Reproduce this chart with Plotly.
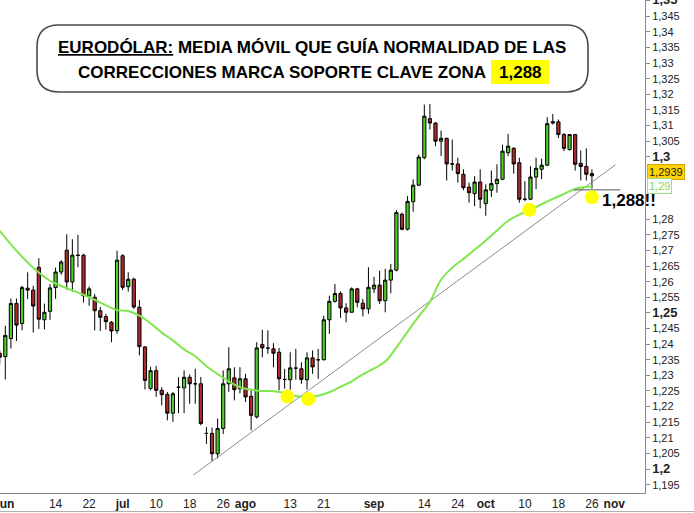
import plotly.graph_objects as go

# ---------------- data (daily EUR/USD candles, 31 May 2012 .. 26 Oct 2012) -------------
day_idx = list(range(107))

open_ = [1.2371, 1.2360, 1.2418, 1.2530, 1.2466, 1.2579, 1.2573, 1.2646, 1.2478, 1.2505,
         1.2581, 1.2631, 1.2701, 1.2599, 1.2685, 1.2685, 1.2554, 1.2550, 1.2507, 1.2488,
         1.2470, 1.2443, 1.2683, 1.2584, 1.2608, 1.2518, 1.2391, 1.2258, 1.2315, 1.2252,
         1.2239, 1.2179, 1.2262, 1.2260, 1.2294, 1.2273, 1.2273, 1.2114, 1.2114, 1.2049,
         1.2130, 1.2273, 1.2292, 1.2257, 1.2289, 1.2233, 1.2167, 1.2399, 1.2387, 1.2385,
         1.2374, 1.2287, 1.2286, 1.2323, 1.2321, 1.2286, 1.2356, 1.2350, 1.2350, 1.2478,
         1.2537, 1.2562, 1.2516, 1.2502, 1.2577, 1.2531, 1.2513, 1.2577, 1.2589, 1.2539,
         1.2605, 1.2637, 1.2816, 1.2768, 1.2856, 1.2909, 1.2997, 1.3122, 1.3108, 1.3050,
         1.3059, 1.2977, 1.2977, 1.2944, 1.2903, 1.2882, 1.2919, 1.2850, 1.2893, 1.2914,
         1.2928, 1.3013, 1.3027, 1.2981, 1.2864, 1.2864, 1.2935, 1.2960, 1.2973, 1.3108,
         1.3112, 1.3071, 1.3023, 1.3071, 1.2979, 1.2969, 1.2946]
high = [1.2380, 1.2459, 1.2546, 1.2546, 1.2587, 1.2630, 1.2587, 1.2675, 1.2530, 1.2592,
        1.2645, 1.2669, 1.2752, 1.2736, 1.2750, 1.2689, 1.2585, 1.2560, 1.2519, 1.2497,
        1.2474, 1.2699, 1.2688, 1.2630, 1.2613, 1.2541, 1.2394, 1.2327, 1.2330, 1.2262,
        1.2247, 1.2247, 1.2294, 1.2316, 1.2303, 1.2321, 1.2295, 1.2135, 1.2133, 1.2162,
        1.2316, 1.2390, 1.2326, 1.2326, 1.2305, 1.2257, 1.2406, 1.2446, 1.2444, 1.2403,
        1.2388, 1.2321, 1.2374, 1.2385, 1.2342, 1.2374, 1.2380, 1.2385, 1.2491, 1.2555,
        1.2593, 1.2569, 1.2531, 1.2582, 1.2580, 1.2545, 1.2646, 1.2616, 1.2635, 1.2641,
        1.2657, 1.2829, 1.2821, 1.2874, 1.2928, 1.3007, 1.3167, 1.3169, 1.3111, 1.3084,
        1.3061, 1.3055, 1.2997, 1.2960, 1.2917, 1.2938, 1.2960, 1.2912, 1.2956, 1.2976,
        1.3039, 1.3073, 1.3031, 1.2997, 1.2922, 1.2970, 1.2997, 1.2994, 1.3127, 1.3137,
        1.3119, 1.3076, 1.3073, 1.3073, 1.3020, 1.3027, 1.2960]
low = [1.2335, 1.2287, 1.2386, 1.2410, 1.2444, 1.2544, 1.2437, 1.2449, 1.2447, 1.2478,
       1.2545, 1.2622, 1.2574, 1.2568, 1.2646, 1.2533, 1.2523, 1.2444, 1.2442, 1.2446,
       1.2406, 1.2433, 1.2573, 1.2568, 1.2513, 1.2364, 1.2255, 1.2252, 1.2231, 1.2204,
       1.2156, 1.2151, 1.2179, 1.2179, 1.2209, 1.2209, 1.2140, 1.2080, 1.2025, 1.2034,
       1.2112, 1.2247, 1.2220, 1.2242, 1.2215, 1.2124, 1.2162, 1.2358, 1.2369, 1.2326,
       1.2252, 1.2257, 1.2254, 1.2286, 1.2273, 1.2255, 1.2305, 1.2289, 1.2348, 1.2433,
       1.2533, 1.2484, 1.2470, 1.2501, 1.2518, 1.2489, 1.2497, 1.2563, 1.2529, 1.2502,
       1.2563, 1.2633, 1.2764, 1.2764, 1.2824, 1.2906, 1.2992, 1.3087, 1.3034, 1.3002,
       1.2924, 1.2956, 1.2917, 1.2893, 1.2853, 1.2842, 1.2835, 1.2811, 1.2871, 1.2885,
       1.2925, 1.3002, 1.2946, 1.2853, 1.2858, 1.2861, 1.2896, 1.2928, 1.2970, 1.3103,
       1.3060, 1.3018, 1.3020, 1.2956, 1.2924, 1.2924, 1.2898]
close = [1.2358, 1.2428, 1.2530, 1.2461, 1.2581, 1.2573, 1.2522, 1.2480, 1.2502, 1.2580,
         1.2631, 1.2663, 1.2599, 1.2685, 1.2684, 1.2555, 1.2577, 1.2507, 1.2486, 1.2472,
         1.2442, 1.2669, 1.2582, 1.2608, 1.2519, 1.2392, 1.2284, 1.2315, 1.2252, 1.2238,
         1.2179, 1.2241, 1.2262, 1.2294, 1.2273, 1.2273, 1.2146, 1.2114, 1.2049, 1.2130,
         1.2273, 1.2321, 1.2254, 1.2289, 1.2231, 1.2172, 1.2388, 1.2388, 1.2387, 1.2371,
         1.2289, 1.2287, 1.2324, 1.2323, 1.2287, 1.2356, 1.2327, 1.2350, 1.2478, 1.2537,
         1.2562, 1.2516, 1.2502, 1.2577, 1.2534, 1.2513, 1.2582, 1.2589, 1.2539, 1.2605,
         1.2637, 1.2821, 1.2768, 1.2857, 1.2909, 1.2999, 1.3130, 1.3108, 1.3050, 1.3059,
         1.2977, 1.2977, 1.2946, 1.2901, 1.2885, 1.2919, 1.2864, 1.2894, 1.2914, 1.2928,
         1.3018, 1.3034, 1.2977, 1.2864, 1.2864, 1.2935, 1.2963, 1.2973, 1.3106, 1.3112,
         1.3071, 1.3027, 1.3071, 1.2976, 1.2969, 1.2944, 1.2939]

# moving average (read at selected candles)
ma_idx = [0, 3, 6, 9, 12, 15, 18, 21, 23, 25, 27, 29, 31, 33, 35, 37, 39, 41, 43, 45,
          47, 49, 51, 53, 55, 57, 59, 61, 63, 65, 67, 69, 71, 73, 75, 77, 79, 81, 83, 85,
          87, 89, 91, 93, 95, 97, 99, 101, 103, 105, 106]
ma_val = [1.2763, 1.2699, 1.2645, 1.2603, 1.2579, 1.2558, 1.2533, 1.2509, 1.2506, 1.2491,
          1.2466, 1.2437, 1.2412, 1.2383, 1.2361, 1.2329, 1.2304, 1.2281, 1.2262, 1.2254,
          1.2250, 1.2249, 1.2244, 1.2234, 1.2231, 1.2235, 1.2246, 1.2263, 1.2281, 1.2303,
          1.2322, 1.2344, 1.2389, 1.2440, 1.2489, 1.2536, 1.2606, 1.2645, 1.2673, 1.2702,
          1.2732, 1.2764, 1.2795, 1.2815, 1.2830, 1.2848, 1.2865, 1.2881, 1.2897, 1.2903,
          1.2905]

# trend line, support line and highlighted touches
trend_x = [34.66, 110.2]
trend_y = [1.1981, 1.2974]
support_x = [102.8, 111.1]
support_y = [1.2894, 1.2894]
dots_x = [51.5, 55.25, 94.8, 106.0]
dots_y = [1.2232, 1.2224, 1.2830, 1.2870]

x_tick_idx = [1, 10, 16, 22, 28, 34, 40, 44, 52, 58, 67, 76, 82, 87, 94, 100, 106, 110]
x_tick_text = ['jun', '14', '22', 'jul', '10', '18', '26', 'ago', '13', '21', 'sep',
               '14', '24', 'oct', '10', '18', '26', 'nov']
month_labels = {'jun', 'jul', 'ago', 'sep', 'oct', 'nov'}

y_tick_vals = [1.195, 1.2, 1.205, 1.21, 1.215, 1.22, 1.225, 1.23, 1.235, 1.24, 1.245,
               1.25, 1.255, 1.26, 1.265, 1.27, 1.275, 1.28, 1.3, 1.305, 1.31, 1.315,
               1.32, 1.325, 1.33, 1.335, 1.34, 1.345, 1.35]
y_tick_text = ['1,195', '1,2', '1,205', '1,21', '1,215', '1,22', '1,225', '1,23', '1,235',
               '1,24', '1,245', '1,25', '1,255', '1,26', '1,265', '1,27', '1,275', '1,28',
               '1,3', '1,305', '1,31', '1,315', '1,32', '1,325', '1,33', '1,335', '1,34',
               '1,345', '1,35']
major_y = {'1,2', '1,25', '1,3', '1,35'}

last_price_label = '1,2939'
ma_price_label = '1,29'

# ---------------- figure -------------
W, H = 694, 513
ML, MR, MT, MB = 0, 49, 0, 20
PW, PH = W - ML - MR, H - MT - MB


def px(x):
    return x / PW


def py(y):
    return 1 - y / PH


FONT = 'Arial, Liberation Sans, sans-serif'
GREEN = '#4ccd27'
RED = '#ad2a2a'

fig = go.Figure()
fig.add_trace(go.Candlestick(
    x=day_idx, open=open_, high=high, low=low, close=close,
    increasing=dict(fillcolor=GREEN, line=dict(color='black', width=1)),
    decreasing=dict(fillcolor=RED, line=dict(color='black', width=1)),
    whiskerwidth=0, showlegend=False, hoverinfo='skip'))
fig.add_trace(go.Scatter(x=trend_x, y=trend_y, mode='lines',
                         line=dict(color='#8c8c8c', width=1), showlegend=False, hoverinfo='skip'))
fig.add_trace(go.Scatter(x=ma_idx, y=ma_val, mode='lines', line_shape='spline',
                         line=dict(color='#7fe64e', width=2), showlegend=False, hoverinfo='skip'))
fig.add_trace(go.Scatter(x=support_x, y=support_y, mode='lines',
                         line=dict(color='#555555', width=1), showlegend=False, hoverinfo='skip'))
fig.add_trace(go.Scatter(x=dots_x, y=dots_y, mode='markers',
                         marker=dict(color='#ffff00', size=14, line=dict(width=0)),
                         showlegend=False, hoverinfo='skip'))

xt = ['<b>%s</b>' % t if t in month_labels else t for t in x_tick_text]
yt = ['<span style="font-size:13px"><b>%s</b></span>' % t if t in major_y else t
      for t in y_tick_text]

# rounded title box
L, R, T, B, r = 37, 588, 25, 92, 22
path = ('M {a},{b} L {c},{b} Q {d},{b} {d},{e} L {d},{f} Q {d},{g} {c},{g} '
        'L {a},{g} Q {h},{g} {h},{f} L {h},{e} Q {h},{b} {a},{b} Z').format(
    a=px(L + r), b=py(T), c=px(R - r), d=px(R), e=py(T + r), f=py(B - r), g=py(B), h=px(L))

fig.update_layout(
    width=W, height=H, margin=dict(l=ML, r=MR, t=MT, b=MB, autoexpand=False),
    paper_bgcolor='white', plot_bgcolor='white',
    font=dict(family=FONT, color='#222222', size=11),
    showlegend=False,
    boxgap=0.18,
    xaxis=dict(range=[0.05, 115.5], tickmode='array', tickvals=x_tick_idx, ticktext=xt,
               showgrid=False, zeroline=False, showline=True, linecolor='#8a8a8a',
               linewidth=1, ticks='', rangeslider=dict(visible=False),
               ticklabeloverflow='allow', automargin=False,
               tickfont=dict(family='Liberation Sans Narrow, Arial Narrow, Arial', size=12,
                             color='#222222'),
               fixedrange=True),
    yaxis=dict(range=[1.19233, 1.3502], side='right', tickmode='array',
               tickvals=y_tick_vals, ticktext=yt, showgrid=False, zeroline=False,
               showline=True, linecolor='#8a8a8a', linewidth=1, ticks='outside',
               ticklen=4, tickcolor='#8a8a8a', tickfont=dict(size=11, color='#222222'),
               ticklabeloverflow='allow', automargin=False, fixedrange=True),
    shapes=[
        dict(type='path', xref='paper', yref='paper', path=path,
             line=dict(color='#4a4a4a', width=1.6), fillcolor='white', layer='above'),
        dict(type='line', xref='paper', yref='paper', x0=0, x1=W / PW,
             y0=py(511.5), y1=py(511.5), line=dict(color='#b0b0b0', width=1)),
        dict(type='rect', xref='paper', yref='paper', x0=px(491), x1=px(549),
             y0=py(84), y1=py(60), line=dict(width=0), fillcolor='#ffff00', layer='above'),
    ],
    annotations=[
        dict(xref='paper', yref='paper', x=px(312), y=py(47), showarrow=False,
             xanchor='center', yanchor='middle',
             text='<b><u>EURODÓLAR:</u> MEDIA MÓVIL QUE GUÍA NORMALIDAD DE LAS</b>',
             font=dict(family=FONT, size=17, color='black')),
        dict(xref='paper', yref='paper', x=px(488), y=py(72), showarrow=False,
             xanchor='right', yanchor='middle',
             text='<b>CORRECCIONES MARCA SOPORTE CLAVE ZONA</b>',
             font=dict(family=FONT, size=17, color='black')),
        dict(xref='paper', yref='paper', x=px(520), y=py(72), showarrow=False,
             xanchor='center', yanchor='middle', text='<b>1,288</b>',
             font=dict(family=FONT, size=17, color='black')),
        dict(xref='paper', yref='paper', x=px(600), y=py(201), showarrow=False,
             xanchor='left', yanchor='middle', text='<b>1,288!!</b>',
             font=dict(family=FONT, size=17, color='black')),
        dict(xref='paper', yref='paper', x=px(647), y=py(171.5), showarrow=False,
             xanchor='left', yanchor='middle', text=last_price_label,
             bgcolor='#ffd400', bordercolor='#d9a400', borderwidth=1, borderpad=1,
             font=dict(family=FONT, size=11, color='#222222')),
        dict(xref='paper', yref='paper', x=px(647), y=py(186), showarrow=False,
             xanchor='left', yanchor='middle', text=ma_price_label,
             bgcolor='white', bordercolor='#9be37d', borderwidth=1, borderpad=1,
             font=dict(family=FONT, size=11, color='#7fd65a')),
    ],
)

fig.write_html('out.html', config={'displayModeBar': False},
               post_script="document.body.style.margin='0px';"
                           "document.body.style.overflow='hidden';")
